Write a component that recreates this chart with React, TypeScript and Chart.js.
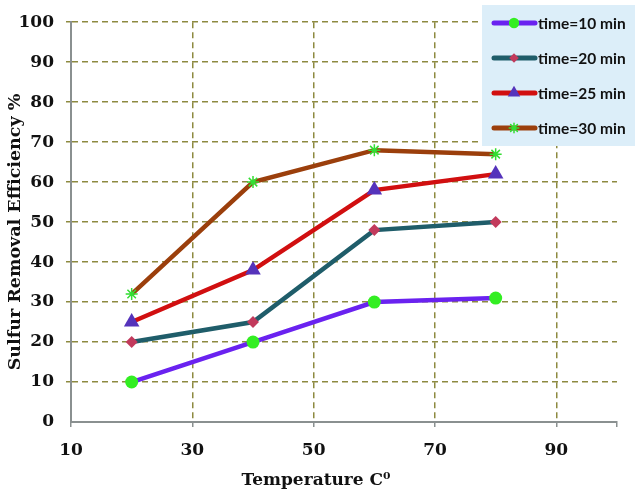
import { useEffect, useRef } from "react";
import { Chart, registerables } from "chart.js";
Chart.register(...registerables);

const temperatures = [20, 40, 60, 80];
const time10 = [10, 20, 30, 31];
const time20 = [20, 25, 48, 50];
const time25 = [25, 38, 58, 62];
const time30 = [32, 60, 68, 67];
const xTicks = [10, 30, 50, 70, 90, 100];

const seriesLabels = ["time=10 min", "time=20 min", "time=25 min", "time=30 min"];

const GRID = "#8d8a40";
const AXIS = "#8a9090";
const SERIF = "'DejaVu Serif', serif";

type Marker = "circle" | "rectRot" | "triangle" | "star";

const styles: { line: string; fill: string; marker: Marker; r: number }[] = [
  { line: "#6a22f0", fill: "#33ee22", marker: "circle", r: 6.5 },
  { line: "#1f5d6a", fill: "#c23a5c", marker: "rectRot", r: 6 },
  { line: "#d10f10", fill: "#5533bb", marker: "triangle", r: 9 },
  { line: "#9b3f0c", fill: "#33dd33", marker: "star", r: 6 },
];

const drawMarker = (
  ctx: CanvasRenderingContext2D,
  m: Marker,
  x: number,
  y: number,
  r: number,
  color: string,
) => {
  ctx.save();
  ctx.fillStyle = color;
  ctx.strokeStyle = color;
  ctx.beginPath();
  if (m === "circle") {
    ctx.arc(x, y, r, 0, Math.PI * 2);
    ctx.fill();
  } else if (m === "rectRot") {
    ctx.moveTo(x - r, y);
    ctx.lineTo(x, y - r);
    ctx.lineTo(x + r, y);
    ctx.lineTo(x, y + r);
    ctx.closePath();
    ctx.fill();
  } else if (m === "triangle") {
    ctx.moveTo(x, y - r);
    ctx.lineTo(x + r * 0.866, y + r * 0.5);
    ctx.lineTo(x - r * 0.866, y + r * 0.5);
    ctx.closePath();
    ctx.fill();
  } else {
    ctx.lineWidth = 1.5;
    for (let i = 0; i < 4; i++) {
      const a = (i * Math.PI) / 4;
      ctx.moveTo(x - Math.cos(a) * r, y - Math.sin(a) * r);
      ctx.lineTo(x + Math.cos(a) * r, y + Math.sin(a) * r);
    }
    ctx.stroke();
  }
  ctx.restore();
};

const overlay = {
  id: "overlay",
  afterDraw(chart: Chart) {
    const ctx = chart.ctx;
    ctx.save();
    // legend box
    ctx.fillStyle = "#dceef9";
    ctx.fillRect(482, 5, 153, 141);
    seriesLabels.forEach((label, i) => {
      const s = styles[i];
      const y = 23 + i * 35;
      ctx.strokeStyle = s.line;
      ctx.lineWidth = 5;
      ctx.lineCap = "round";
      ctx.beginPath();
      ctx.moveTo(494, y);
      ctx.lineTo(535, y);
      ctx.stroke();
      drawMarker(ctx, s.marker, 514, y, s.r * 0.8, s.fill);
      ctx.fillStyle = "#111";
      ctx.font = "bold 15.5px Lato, sans-serif";
      ctx.textAlign = "left";
      ctx.textBaseline = "middle";
      ctx.fillText(label, 538, y + 1);
    });
    // axis titles
    ctx.fillStyle = "#111";
    ctx.font = `bold 17px ${SERIF}`;
    ctx.textAlign = "center";
    ctx.textBaseline = "middle";
    ctx.fillText("Temperature C\u2070", 316, 481);
    ctx.font = `bold 17.5px ${SERIF}`;
    ctx.translate(15, 232);
    ctx.rotate(-Math.PI / 2);
    ctx.fillText("Sulfur Removal Efficiency %", 0, 0);
    ctx.restore();
  },
};

const App = () => {
  const canvasRef = useRef<HTMLCanvasElement>(null);
  const chartRef = useRef<Chart | null>(null);

  useEffect(() => {
    if (!canvasRef.current) return;
    if (chartRef.current) chartRef.current.destroy();

    const series = [time10, time20, time25, time30];

    chartRef.current = new Chart(canvasRef.current, {
      type: "line",
      data: {
        datasets: series.map((vals, i) => ({
          label: seriesLabels[i],
          data: temperatures.map((t, j) => ({ x: t, y: vals[j] })),
          borderColor: styles[i].line,
          backgroundColor: styles[i].fill,
          borderWidth: 4.5,
          pointStyle: styles[i].marker,
          pointRadius: styles[i].r,
          pointBackgroundColor: styles[i].fill,
          pointBorderColor: styles[i].fill,
          pointBorderWidth: styles[i].marker === "star" ? 1.5 : 0,
          tension: 0,
        })),
      },
      options: {
        responsive: true,
        maintainAspectRatio: false,
        animation: false,
        layout: { padding: { top: 22, right: 23, left: 0, bottom: 0 } },
        plugins: {
          legend: { display: false },
          tooltip: { enabled: false },
        },
        scales: {
          x: {
            type: "linear",
            min: 10,
            max: 100,
            afterBuildTicks: (scale) => {
              scale.ticks = xTicks.map((v) => ({ value: v }));
            },
            afterFit: (scale) => {
              scale.height = 76;
            },
            border: { display: true, color: AXIS, width: 2, dash: [6, 4] },
            grid: {
              color: (ctx) =>
                ctx.tick && (ctx.tick.value === 10 || ctx.tick.value === 100)
                  ? "rgba(0,0,0,0)"
                  : GRID,
              lineWidth: 1.5,
              tickLength: 5,
              tickColor: AXIS,
            },
            ticks: {
              autoSkip: false,
              maxRotation: 0,
              padding: 13,
              color: "#111",
              font: { family: SERIF, size: 17, weight: "bold" },
              callback: (v) => (Number(v) === 100 ? "" : String(v)),
            },
          },
          y: {
            min: 0,
            max: 100,
            afterFit: (scale) => {
              scale.width = 71;
            },
            border: { display: true, color: AXIS, width: 2, dash: [6, 4] },
            grid: {
              color: (ctx) =>
                ctx.tick && ctx.tick.value === 0 ? "rgba(0,0,0,0)" : GRID,
              lineWidth: 1.5,
              tickLength: 5,
            },
            ticks: {
              stepSize: 10,
              padding: 12,
              color: "#111",
              font: { family: SERIF, size: 17, weight: "bold" },
            },
          },
        },
      },
      plugins: [overlay],
    });

    return () => {
      chartRef.current?.destroy();
    };
  }, []);

  return (
    <div
      style={{
        position: "absolute",
        left: 0,
        top: 0,
        width: 640,
        height: 498,
        background: "#fff",
      }}
    >
      <canvas ref={canvasRef} />
    </div>
  );
};

export default App;
